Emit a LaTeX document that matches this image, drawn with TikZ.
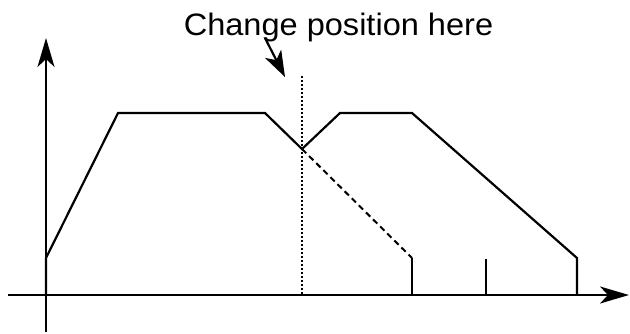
\documentclass[tikz,border=0pt]{standalone}
\usepackage{fontspec}
\setmainfont{Liberation Sans}
\usetikzlibrary{arrows.meta}
\tikzset{
  axis/.style={line width=2.2pt,-{Stealth[length=29pt,width=17pt,inset=8pt]}},
  curve/.style={line width=2.2pt,line join=miter},
  dashcurve/.style={line width=2pt,dash pattern=on 6pt off 4pt},
  dotline/.style={line width=2pt,dash pattern=on 2pt off 2pt},
  pointer/.style={line width=2.2pt,-{Stealth[length=26pt,width=18pt,inset=7pt]}}
}
\begin{document}
\begin{tikzpicture}[x=1pt,y=-1pt]
\useasboundingbox (0,0) rectangle (630,333);
% axes
\coordinate (xs) at (8,295);
\coordinate (xe) at (629,295);
\coordinate (ys) at (46,332);
\coordinate (ye) at (46,38);
\draw[axis] (xs) -- (xe);
\draw[axis] (ys) -- (ye);
% key points
\coordinate (a0) at (46,295);
\coordinate (a1) at (46,258);
\coordinate (a2) at (118,113);
\coordinate (a3) at (265,113);
\coordinate (m) at (302,149);
\coordinate (d1) at (412,258);
\coordinate (d0) at (412,295);
\coordinate (b1) at (340,113);
\coordinate (b2) at (412,113);
\coordinate (b3) at (577,258);
\coordinate (b0) at (577,295);
\coordinate (t1) at (486,259);
\coordinate (t0) at (486,295);
\coordinate (v1) at (302,76);
\coordinate (v0) at (302,295);
% profiles
\draw[curve] (a0) -- (a1) -- (a2) -- (a3) -- (m) -- (b1) -- (b2) -- (b3) -- (b0);
\draw[dashcurve] (m) -- (d1);
\draw[curve] (d1) -- (d0);
\draw[curve] (t1) -- (t0);
\draw[dotline] (v1) -- (v0);
% label
\node[font=\fontsize{31}{36}\selectfont, anchor=base, xscale=1.05, inner sep=0pt] (lbl) at (338.5,35) {Change position here};
\coordinate (p0) at (265,38);
\coordinate (p1) at (285,77);
\draw[pointer] (p0) -- (p1);
\end{tikzpicture}
\end{document}
